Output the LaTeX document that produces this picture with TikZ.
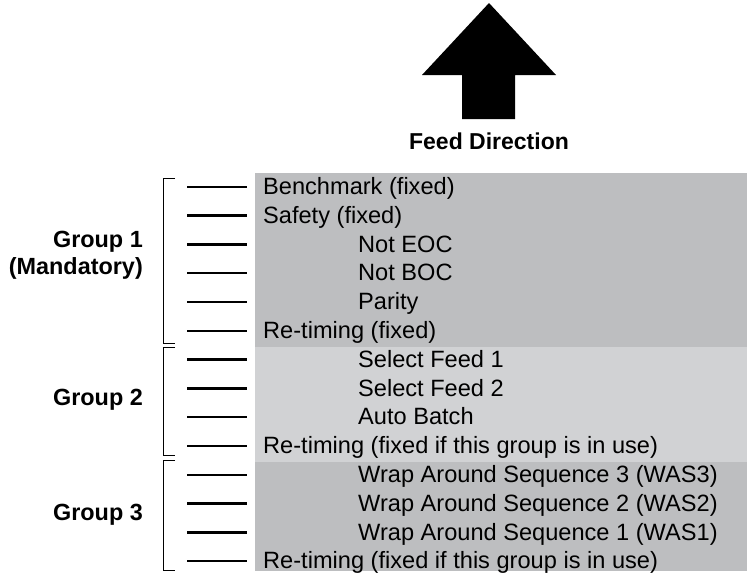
\documentclass[tikz,border=0pt]{standalone}
\usepackage{fontspec}
\setmainfont{Liberation Sans}
\usetikzlibrary{positioning}
\definecolor{darkGray}{HTML}{BDBEC0}
\definecolor{lightGray}{HTML}{D1D2D4}

\begin{document}
\begin{tikzpicture}[
		x=1pt, y=-1pt,
		font=\fontsize{23.6}{28}\selectfont,
		% Box styles for the three groups
		grpBox/.style={anchor=north west, inner sep=0pt, minimum width=492pt},
		darkBox/.style={grpBox, fill=darkGray},
		lightBox/.style={grpBox, fill=lightGray},
		% Text styles
		rowText/.style={anchor=base west, inner sep=0pt},
		grpLabel/.style={font=\fontsize{23.4}{27}\selectfont\bfseries, align=right, anchor=east, inner sep=0pt},
		% Line styles
		tickLine/.style={line width=2.4pt},
		bracketLine/.style={line width=1pt}
		]
		
		\useasboundingbox (0,0) rectangle (749,576);
		
		% =========================================================
		% FEED DIRECTION ARROW
		% =========================================================
		\fill[black] (489,3) -- (556,75) -- (515,75) -- (515,119) -- (462,119) -- (462,75) -- (422,75) -- cycle;
		\node[font=\fontsize{23}{28}\selectfont\bfseries, anchor=base, inner sep=0pt] (feedLabel) at (489,149) {Feed Direction};
		
		% =========================================================
		% GROUP BACKGROUNDS
		% =========================================================
		\node[darkBox, minimum height=174pt] (g1Box) at (255,173) {};
		\node[lightBox, minimum height=115pt] (g2Box) at (255,347) {};
		\node[darkBox, minimum height=109pt] (g3Box) at (255,462) {};
		
		% =========================================================
		% ROWS: tick line and text
		% =========================================================
		\foreach \txt/\xx [count=\k from 0] in {
			Benchmark (fixed)/263,
			Safety (fixed)/263,
			Not EOC/358,
			Not BOC/358,
			Parity/358,
			Re-timing (fixed)/263,
			Select Feed 1/358,
			Select Feed 2/358,
			Auto Batch/358,
			Re-timing (fixed if this group is in use)/263,
			Wrap Around Sequence 3 (WAS3)/358,
			Wrap Around Sequence 2 (WAS2)/358,
			Wrap Around Sequence 1 (WAS1)/358,
			Re-timing (fixed if this group is in use)/263} {
			\pgfmathsetmacro{\yy}{186.7+28.8*\k}
			\draw[tickLine] (187,\yy) -- (247,\yy);
			\node[rowText] (row\k) at (\xx,\yy+7.8) {\txt};
		}
		
		% =========================================================
		% GROUP BRACKETS AND LABELS
		% =========================================================
		\draw[bracketLine] (175,178) -- (163,178) -- (163,343) -- (175,343);
		\draw[bracketLine] (175,347) -- (163,347) -- (163,455) -- (175,455);
		\draw[bracketLine] (175,460) -- (163,460) -- (163,570) -- (175,570);
		
		\node[grpLabel] (g1Label) at (143,255) {Group 1\\(Mandatory)};
		\node[grpLabel] (g2Label) at (143,400) {Group 2};
		\node[grpLabel] (g3Label) at (143,515) {Group 3};
		
	\end{tikzpicture}
\end{document}
